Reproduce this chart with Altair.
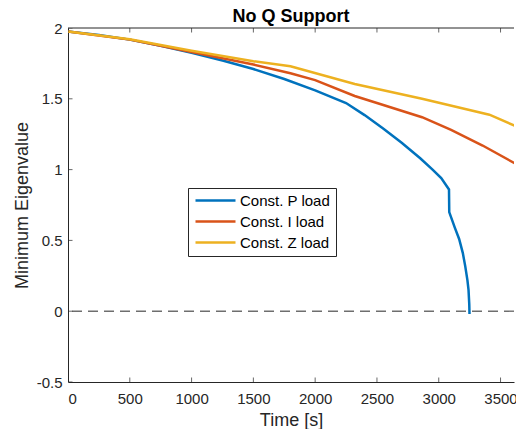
import altair as alt
import pandas as pd

series_names = ["Const. P load", "Const. I load", "Const. Z load"]
series_colors = ["#0072BD", "#D95319", "#EDB120"]

p_time = [0, 250, 500, 750, 1000, 1250, 1500, 1750, 2000, 2250, 2400, 2550, 2700, 2850, 2950, 3020, 3083, 3085, 3130, 3165, 3195, 3214, 3232, 3241, 3247, 3249]
p_eig = [1.975, 1.95, 1.918, 1.875, 1.825, 1.77, 1.71, 1.64, 1.56, 1.47, 1.385, 1.29, 1.19, 1.08, 1.0, 0.94, 0.86, 0.70, 0.59, 0.51, 0.41, 0.32, 0.22, 0.15, 0.05, -0.02]

i_time = [0, 500, 1000, 1500, 1800, 2000, 2320, 2500, 2865, 3100, 3355, 3614, 3700]
i_eig = [1.975, 1.918, 1.83, 1.742, 1.68, 1.632, 1.52, 1.47, 1.37, 1.28, 1.17, 1.045, 1.045]

z_time = [0, 500, 1000, 1500, 1800, 2320, 2865, 3410, 3614, 3700]
z_eig = [1.975, 1.92, 1.84, 1.765, 1.73, 1.605, 1.5, 1.388, 1.31, 1.31]

x_ticks = [0, 500, 1000, 1500, 2000, 2500, 3000, 3500]
y_ticks = [-0.5, 0, 0.5, 1, 1.5, 2]
x_range = [0, 3609]
y_range = [-0.5, 2]
zero_level = [0]

rows = []
for name, ts, vs in zip(series_names, [p_time, i_time, z_time], [p_eig, i_eig, z_eig]):
    for k, (t, v) in enumerate(zip(ts, vs)):
        rows.append({"series": name, "t": t, "v": v, "k": k})
df = pd.DataFrame(rows)

FONT = "Liberation Sans"
AX = "#262626"

x_scale = alt.Scale(domain=x_range, nice=False, zero=False)
y_scale = alt.Scale(domain=y_range, nice=False, zero=False)
x_axis = alt.Axis(title="Time [s]", values=x_ticks, labelExpr="toString(datum.value)",
                  tickSize=0, labelPadding=9, titlePadding=5)
y_axis = alt.Axis(title="Minimum Eigenvalue", values=y_ticks, labelExpr="toString(datum.value)",
                  tickSize=0, labelPadding=6, titlePadding=5)
X = alt.X("t:Q", scale=x_scale, axis=x_axis, title="Time [s]")
Y = alt.Y("v:Q", scale=y_scale, axis=y_axis, title="Minimum Eigenvalue")

lines = alt.Chart(df).mark_line(strokeWidth=2.5, clip=True).encode(
    x=X, y=Y,
    color=alt.Color("series:N", scale=alt.Scale(domain=series_names, range=series_colors),
                    legend=alt.Legend(title=None, orient="none", legendX=120, legendY=160,
                                      symbolType="M-1,0H7", symbolSize=100, symbolStrokeWidth=2.5,
                                      labelOffset=32, labelFontSize=15, labelFont=FONT, labelColor="#000000",
                                      fillColor="white", strokeColor=AX, padding=5, rowPadding=5)),
    order="k:Q",
)

zero = alt.Chart(pd.DataFrame({"v": zero_level})).mark_rule(
    strokeDash=[10, 6], color="#6e6e6e", strokeWidth=1.4
).encode(y=Y)

top_line = alt.Chart(pd.DataFrame({"v": [y_range[1]]})).mark_rule(
    color=AX, strokeWidth=1
).encode(y=Y)

bottom_ticks = pd.DataFrame({"t": x_ticks, "v": [y_range[0]] * len(x_ticks)})
top_ticks = pd.DataFrame({"t": x_ticks, "v": [y_range[1]] * len(x_ticks)})
left_ticks = pd.DataFrame({"t": [x_range[0]] * len(y_ticks), "v": y_ticks})


def tick_layer(data, orient):
    return alt.Chart(data).mark_tick(orient=orient, size=9, thickness=1, color=AX, clip=True).encode(
        x=X, y=Y,
    )


chart = alt.layer(
    zero, top_line, lines,
    tick_layer(bottom_ticks, "vertical"), tick_layer(top_ticks, "vertical"),
    tick_layer(left_ticks, "horizontal"),
).properties(
    width=508, height=421,
    title=alt.TitleParams("No Q Support", fontSize=18, font=FONT, fontWeight="bold", color="#000000",
                          anchor="middle", offset=-5),
    autosize=alt.AutoSizeParams(type="fit", contains="padding"),
    padding={"left": 5, "top": 0, "right": 0, "bottom": 0},
).configure_view(
    strokeWidth=0
).configure_axis(
    grid=False, domainColor=AX, tickColor=AX, labelColor=AX, titleColor=AX,
    labelFont=FONT, titleFont=FONT, labelFontSize=15, titleFontSize=18, titleFontWeight="normal",
    domainWidth=1, tickWidth=1
)

chart.save("out.html", embed_options={"renderer": "svg", "actions": False})
